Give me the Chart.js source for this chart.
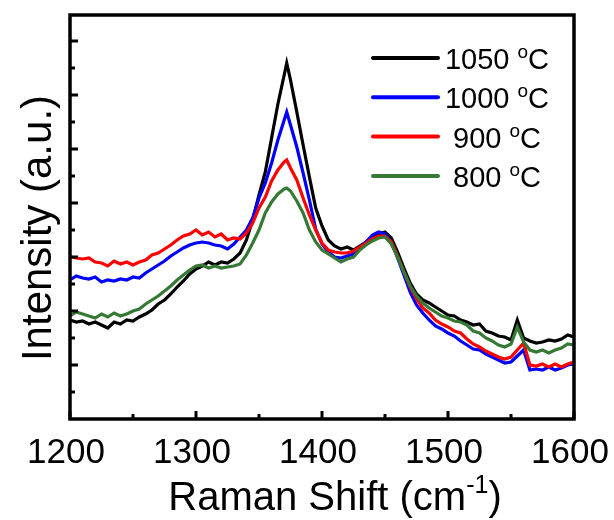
<!DOCTYPE html>
<html><head><meta charset="utf-8">
<script src="https://cdn.jsdelivr.net/npm/chart.js@4/dist/chart.umd.min.js"></script>
<style>html,body{margin:0;padding:0;background:#fff}#wrap{width:614px;height:520px;position:relative}</style>
</head><body><div id="wrap"><canvas id="c"></canvas></div>
<script>
// Raman shift (cm-1)
const wavenumbers = [1200,1205,1210,1215,1220,1225,1230,1235,1240,1245,
 1250,1255,1260,1265,1270,1275,1280,1285,1290,1295,
 1300,1305,1310,1315,1320,1325,1330,1335,1340,1345,
 1350,1355,1360,1365,1370,1372,1375,
 1380,1385,1390,1395,1400,1405,1410,1415,1420,1425,
 1430,1435,1440,1445,1450,1455,1460,1465,1470,1475,
 1480,1485,1490,1495,1500,1505,1510,1515,1520,1525,
 1530,1535,1540,1545,1550,1555,1560,1565,1570,1575,
 1580,1585,1590,1595,1600];

const int1050 = [9.9,9.7,9.8,9.5,9.7,9.4,9.1,9.7,9.5,9.9,
 9.8,10.2,10.5,10.9,11.5,11.9,12.5,13.2,13.8,14.5,
 15.0,15.3,15.7,15.4,15.7,15.6,16.0,16.6,17.9,19.9,
 22.4,24.7,28.1,31.5,34.4,35.6,33.9,
 30.7,27.4,24.2,21.1,19.3,17.9,17.3,17.0,17.2,16.9,
 17.3,17.7,18.2,18.5,18.7,18.1,16.7,15.1,13.6,12.5,
 11.9,11.6,11.2,10.8,10.4,10.3,9.9,9.7,9.4,9.5,
 8.8,8.6,8.3,8.2,7.9,9.9,8.1,7.8,7.6,7.7,
 7.9,7.8,8.0,8.4,8.2];

const int1000 = [13.9,14.3,14.1,14.0,14.2,13.7,13.9,13.8,14.0,13.9,
 14.2,14.1,14.6,15.0,15.4,15.8,16.3,16.7,17.1,17.4,
 17.6,17.7,17.6,17.4,17.3,17.0,17.5,18.2,18.9,20.1,
 22.1,23.6,25.6,27.9,29.9,30.7,29.4,
 27.2,24.6,21.9,19.0,17.5,16.7,16.2,16.1,16.3,16.5,
 17.2,17.7,18.4,18.7,18.5,17.7,16.1,14.4,12.7,11.4,
 10.6,9.9,9.3,9.0,8.6,8.3,7.8,7.4,7.0,6.9,
 6.5,6.2,5.9,5.6,5.7,6.3,6.9,4.9,5.0,4.9,
 5.2,4.9,5.1,5.4,5.5];

const int900 = [16.2,16.1,16.0,16.1,15.7,15.6,15.3,15.8,15.5,15.7,
 15.4,15.7,15.9,16.4,16.6,17.0,17.4,17.9,18.3,18.5,
 18.9,18.4,18.7,18.2,18.5,17.9,18.1,18.0,18.6,19.6,
 21.1,22.2,23.8,24.9,25.7,25.9,25.1,
 23.9,22.1,20.4,18.9,17.6,16.9,16.7,16.6,16.6,16.8,
 17.2,17.6,18.0,18.3,18.3,17.7,16.3,14.7,13.2,12.0,
 11.1,10.6,9.9,9.5,9.2,8.8,8.6,8.0,7.5,7.2,
 6.8,6.5,6.2,6.0,6.2,6.9,7.6,5.4,5.3,5.5,
 5.2,5.5,5.2,5.5,5.7];

const int800 = [10.3,10.7,10.5,10.3,10.1,10.5,10.2,10.6,10.3,10.5,
 10.8,11.0,11.5,11.9,12.3,12.8,13.3,13.9,14.4,14.9,
 15.3,15.4,15.1,15.3,15.1,15.2,15.3,15.5,16.4,17.6,
 18.9,20.6,21.7,22.5,23.0,23.1,22.8,
 21.8,20.6,18.9,17.7,16.9,16.5,16.1,15.7,16.0,16.2,
 16.9,17.4,17.8,18.1,18.2,17.5,16.2,14.7,13.3,12.3,
 11.6,11.1,10.7,10.3,10.1,9.8,9.7,9.4,8.8,8.6,
 8.1,7.8,7.4,7.2,7.5,9.2,7.7,6.9,6.7,6.9,
 6.6,6.9,7.1,7.5,7.4];

const seriesLabels = ['1050', '1000', '900', '800'];
const seriesUnit = ['o', 'C'];
const xTickLabels = [1200, 1300, 1400, 1500, 1600];
const xMinorTicks = [1250, 1350, 1450, 1550];
const yMajorTicks = [5.4, 10.8, 16.2, 21.6, 27.0, 32.4, 37.8];
const yMinorTicks = [2.7, 8.1, 13.5, 18.9, 24.3, 29.7, 35.1];
const xTitle = ['Raman Shift (cm', '-1', ')'];
const yTitle = 'Intensity (a.u.)';

const colors = ['#000000', '#0000ff', '#ff0000', '#357935'];
const seriesValues = [int1050, int1000, int900, int800];
const FONT = "'Liberation Sans', Arial, sans-serif";

const datasets = seriesValues.map((vals, i) => ({
  label: seriesLabels[i],
  data: wavenumbers.map((w, j) => ({x: w, y: vals[j]})),
  borderColor: colors[i],
  backgroundColor: colors[i],
  borderWidth: 3.2,
  pointRadius: 0,
  tension: 0,
  order: 3 - i
}));

const framePlugin = {
  id: 'frame',
  afterDraw(chart) {
    const {ctx, chartArea: a, scales: {x, y}} = chart;
    ctx.save();
    ctx.strokeStyle = '#000';
    ctx.lineWidth = 3.5;
    ctx.strokeRect(a.left, a.top, a.right - a.left, a.bottom - a.top);
    ctx.lineWidth = 3;
    ctx.beginPath();
    xTickLabels.forEach(v => { const p = x.getPixelForValue(v); ctx.moveTo(p, a.bottom); ctx.lineTo(p, a.bottom - 8); });
    xMinorTicks.forEach(v => { const p = x.getPixelForValue(v); ctx.moveTo(p, a.bottom); ctx.lineTo(p, a.bottom - 5); });
    yMajorTicks.forEach(v => { const p = y.getPixelForValue(v); ctx.moveTo(a.left, p); ctx.lineTo(a.left + 8, p); });
    yMinorTicks.forEach(v => { const p = y.getPixelForValue(v); ctx.moveTo(a.left, p); ctx.lineTo(a.left + 5, p); });
    ctx.stroke();

    ctx.fillStyle = '#000';
    // x title
    ctx.textBaseline = 'alphabetic';
    ctx.font = '40px ' + FONT;
    const w1 = ctx.measureText(xTitle[0]).width;
    ctx.font = '25px ' + FONT;
    const w2 = ctx.measureText(xTitle[1]).width;
    ctx.font = '40px ' + FONT;
    const w3 = ctx.measureText(xTitle[2]).width;
    let sx = 335 - (w1 + w2 + w3) / 2;
    const by = 510;
    ctx.textAlign = 'left';
    ctx.fillText(xTitle[0], sx, by);
    ctx.font = '25px ' + FONT;
    ctx.fillText(xTitle[1], sx + w1, by - 17);
    ctx.font = '40px ' + FONT;
    ctx.fillText(xTitle[2], sx + w1 + w2, by);

    // y title
    ctx.save();
    ctx.translate(51, 228);
    ctx.rotate(-Math.PI / 2);
    ctx.font = '42px ' + FONT;
    ctx.textAlign = 'center';
    ctx.fillText(yTitle, 0, 0);
    ctx.restore();

    // legend
    chart.data.datasets.forEach((ds, i) => {
      const cy = 58 + i * 39.3;
      ctx.strokeStyle = ds.borderColor;
      ctx.lineWidth = 4;
      ctx.lineCap = 'round';
      ctx.beginPath(); ctx.moveTo(373, cy); ctx.lineTo(438, cy); ctx.stroke();
      ctx.font = '29px ' + FONT;
      const t1 = ds.label + ' ';
      const a1 = ctx.measureText(t1).width;
      const a3 = ctx.measureText(seriesUnit[1]).width;
      ctx.font = '19px ' + FONT;
      const a2 = ctx.measureText(seriesUnit[0]).width;
      let lx = 497 - (a1 + a2 + a3) / 2;
      const ly = cy + 11;
      ctx.textAlign = 'left';
      ctx.font = '29px ' + FONT;
      ctx.fillText(t1, lx, ly);
      ctx.font = '19px ' + FONT;
      ctx.fillText(seriesUnit[0], lx + a1, ly - 11);
      ctx.font = '29px ' + FONT;
      ctx.fillText(seriesUnit[1], lx + a1 + a2, ly);
    });
    ctx.restore();
  }
};

new Chart(document.getElementById('c'), {
  type: 'line',
  data: { datasets },
  options: {
    responsive: true,
    maintainAspectRatio: false,
    animation: false,
    devicePixelRatio: 1,
    layout: { padding: { top: 15, right: 40, left: 0, bottom: 0 } },
    plugins: { legend: { display: false }, tooltip: { enabled: false } },
    scales: {
      x: {
        type: 'linear', min: 1200, max: 1600,
        afterBuildTicks: s => { s.ticks = xTickLabels.map(v => ({value: v})); },
        afterFit: s => { s.height = 101; s.paddingLeft = 0; s.paddingRight = 0; },
        grid: { display: false, drawTicks: false },
        border: { display: false },
        ticks: { color: '#000', font: { size: 35, family: FONT }, padding: 13, maxRotation: 0,
                 labelOffset: -4, callback: v => String(v) }
      },
      y: {
        type: 'linear', min: 0, max: 40.4,
        afterFit: s => { s.width = 70; },
        grid: { display: false, drawTicks: false },
        border: { display: false },
        ticks: { display: false }
      }
    }
  },
  plugins: [framePlugin]
});
</script>
</body></html>
